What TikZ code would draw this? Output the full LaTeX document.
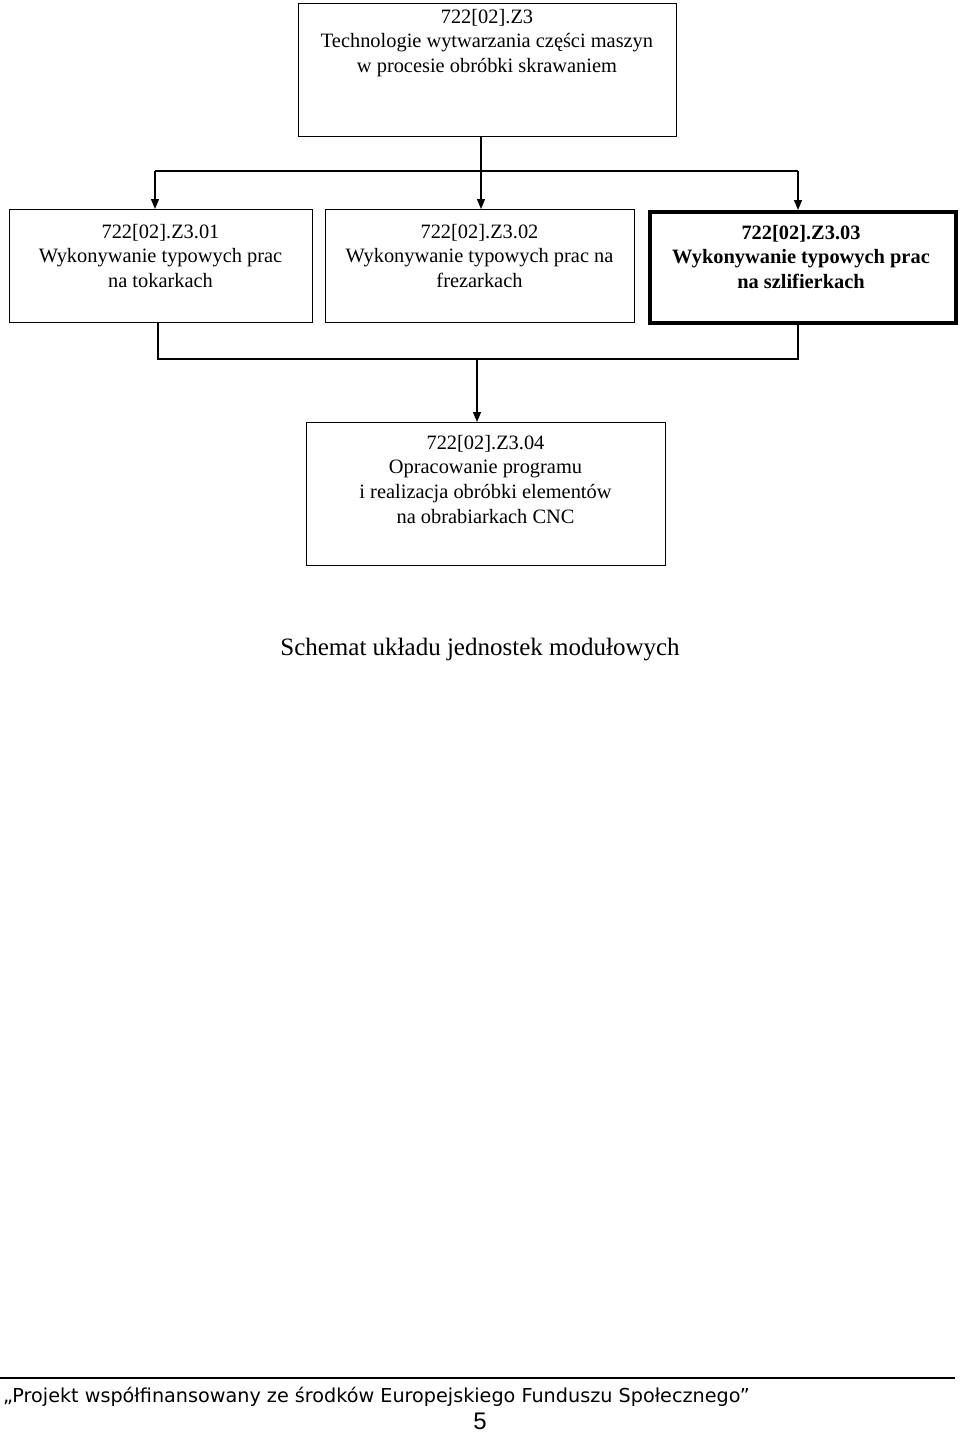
\documentclass[tikz,border=0pt]{standalone}
\usepackage{fontspec}
\setmainfont{Liberation Serif}
\newfontfamily\footfont{DejaVu Sans}
\newfontfamily\numfont{Liberation Sans}
\usetikzlibrary{arrows.meta}
\begin{document}
\begin{tikzpicture}[x=1pt,y=-1pt,
  box/.style={draw,line width=1.3pt,anchor=north west,inner sep=0pt},
  boldbox/.style={draw,line width=3.6pt,anchor=north west,inner sep=0pt},
  txt/.style={align=center,anchor=north,inner sep=0pt,font=\fontsize{20.4}{24.6}\selectfont},
  conn/.style={line width=1.3pt},
  arr/.style={line width=1.3pt,-{Triangle[length=10pt,width=8pt]}}]
\useasboundingbox (0,0) rectangle (960,1432);
% boxes
\node[box,minimum width=378pt,minimum height=133pt] (top) at (298,3) {};
\node[txt] (toptxt) at (487,9) {722[02].Z3\\Technologie wytwarzania części maszyn\\w procesie obróbki skrawaniem};
\node[box,minimum width=303pt,minimum height=113pt] (b1) at (9,209) {};
\node[txt] (b1txt) at (160.5,224) {722[02].Z3.01\\Wykonywanie typowych prac\\na tokarkach};
\node[box,minimum width=309pt,minimum height=113pt] (b2) at (325,209) {};
\node[txt] (b2txt) at (479.5,224) {722[02].Z3.02\\Wykonywanie typowych prac na\\frezarkach};
\node[boldbox,minimum width=306pt,minimum height=111pt] (b3) at (648,210) {};
\node[txt,font=\fontsize{20.4}{24.6}\selectfont\bfseries] (b3txt) at (801,225) {722[02].Z3.03\\Wykonywanie typowych prac\\na szlifierkach};
\node[box,minimum width=359pt,minimum height=143pt] (b4) at (306,422) {};
\node[txt] (b4txt) at (485.5,435) {722[02].Z3.04\\Opracowanie programu\\i realizacja obróbki elementów\\na obrabiarkach CNC};
% connectors
\coordinate (j1) at (481,171);
\coordinate (j1l) at (155,171);
\coordinate (j1r) at (798,171);
\draw[conn] (top.south -| j1) -- (j1);
\draw[conn] (j1l) -- (j1r);
\draw[arr] (j1l) -- (j1l |- b1.north);
\draw[arr] (j1) -- (j1 |- b2.north);
\draw[arr] (j1r) -- (j1r |- b3.north);
\coordinate (j2) at (477,359);
\coordinate (j2l) at (158,359);
\coordinate (j2r) at (798,359);
\draw[conn] (j2l |- b1.south) -- (j2l) -- (j2r) -- (j2r |- b3.south);
\draw[arr] (j2) -- (j2 |- b4.north);
% caption
\node[inner sep=0pt,font=\fontsize{25}{30}\selectfont] (cap) at (480,650) {Schemat układu jednostek modułowych};
% footer
\coordinate (fl) at (0,1378);
\coordinate (fr) at (955,1378);
\draw[line width=1.6pt] (fl) -- (fr);
\node[inner sep=0pt,anchor=west,font=\footfont\fontsize{19.2}{22}\selectfont] (foot) at (3,1397) {„Projekt współfinansowany ze środków Europejskiego Funduszu Społecznego”};
\node[inner sep=0pt,font=\numfont\fontsize{24}{28}\selectfont] (page) at (480,1421) {5};
\end{tikzpicture}
\end{document}
